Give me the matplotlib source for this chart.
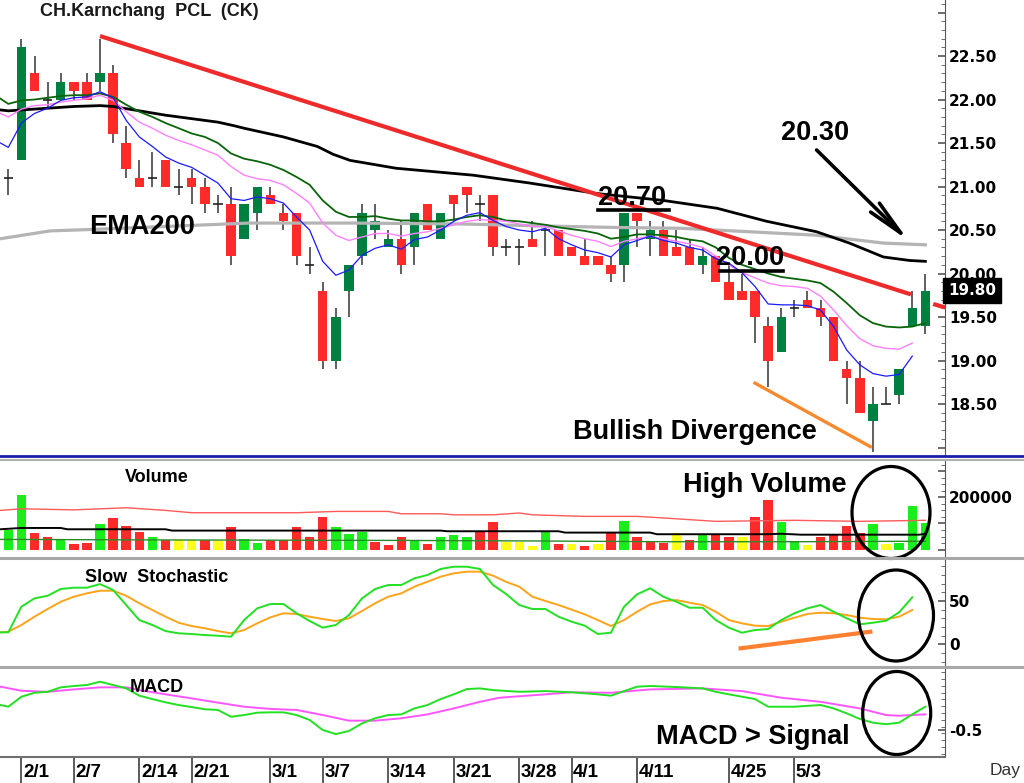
import matplotlib
matplotlib.use('Agg')
import matplotlib.pyplot as plt
import matplotlib.transforms as mtransforms
from matplotlib.ticker import MultipleLocator, FuncFormatter
from matplotlib.patches import Ellipse
from matplotlib.lines import Line2D
import numpy as np

plt.rcParams['font.family'] = ['Liberation Sans', 'DejaVu Sans']
plt.rcParams['font.weight'] = 'bold'

W, H = 1024, 783

# ---------------- data ----------------
date_labels = ['2/1', '2/7', '2/14', '2/21', '3/1', '3/7', '3/14', '3/21',
               '3/28', '4/1', '4/11', '4/25', '5/3']
date_index = [1, 5, 10, 14, 20, 24, 29, 34, 39, 43, 48, 55, 60]

opens = [21.1, 21.3, 22.3, 22.0, 22.0, 22.2, 22.2, 22.2, 22.3, 21.5,
         21.1, 21.1, 21.3, 21.0, 21.1, 21.0, 20.8, 20.8, 20.4, 20.7,
         20.9, 20.7, 20.7, 20.1, 19.8, 19.0, 19.8, 20.2, 20.5, 20.3,
         20.4, 20.3, 20.8, 20.4, 20.9, 21.0, 20.8, 20.9, 20.3, 20.3,
         20.4, 20.5, 20.5, 20.3, 20.2, 20.2, 20.1, 20.1, 20.7, 20.4,
         20.5, 20.3, 20.3, 20.1, 20.2, 19.9, 19.8, 19.8, 19.4, 19.1,
         19.6, 19.7, 19.6, 19.5, 18.9, 18.8, 18.3, 18.5, 18.6, 19.4,
         19.4]
closes = [21.1, 22.6, 22.1, 22.0, 22.2, 22.1, 22.0, 22.3, 21.6, 21.2,
          21.0, 21.1, 21.0, 21.0, 21.0, 20.8, 20.8, 20.2, 20.8, 21.0,
          20.8, 20.6, 20.2, 20.1, 19.0, 19.5, 20.1, 20.7, 20.6, 20.4,
          20.1, 20.7, 20.5, 20.7, 20.8, 20.9, 20.8, 20.3, 20.3, 20.3,
          20.3, 20.5, 20.2, 20.2, 20.1, 20.1, 20.0, 20.7, 20.6, 20.5,
          20.2, 20.2, 20.1, 20.2, 19.9, 19.7, 19.7, 19.5, 19.0, 19.5,
          19.6, 19.6, 19.5, 19.0, 18.8, 18.4, 18.5, 18.5, 18.9, 19.6,
          19.8]
highs = [21.2, 22.7, 22.5, 22.2, 22.3, 22.2, 22.3, 22.7, 22.4, 21.7,
         21.3, 21.4, 21.3, 21.2, 21.2, 21.1, 20.9, 21.0, 20.8, 21.0,
         21.0, 20.8, 20.7, 20.3, 19.9, 19.6, 20.1, 20.8, 20.8, 20.5,
         20.6, 20.7, 20.8, 20.7, 20.9, 21.0, 20.9, 20.9, 20.4, 20.4,
         20.6, 20.5, 20.5, 20.3, 20.4, 20.2, 20.2, 20.7, 20.7, 20.6,
         20.6, 20.5, 20.4, 20.3, 20.2, 20.1, 20.0, 19.8, 19.5, 19.6,
         19.7, 19.8, 19.7, 19.5, 19.0, 19.0, 18.7, 18.7, 18.9, 19.8,
         20.0]
lows = [20.9, 21.3, 22.1, 21.9, 22.0, 22.0, 22.0, 22.1, 21.5, 21.1,
        21.0, 21.0, 21.0, 20.9, 20.8, 20.7, 20.7, 20.1, 20.4, 20.5,
        20.8, 20.5, 20.1, 20.0, 18.9, 18.9, 19.5, 20.1, 20.4, 20.3,
        20.0, 20.1, 20.5, 20.4, 20.6, 20.7, 20.6, 20.2, 20.2, 20.1,
        20.3, 20.2, 20.2, 20.2, 20.1, 20.1, 19.9, 19.9, 20.3, 20.2,
        20.2, 20.2, 20.1, 20.0, 19.9, 19.7, 19.7, 19.2, 18.7, 19.1,
        19.5, 19.6, 19.4, 19.0, 18.5, 18.4, 17.95, 18.5, 18.5, 19.4,
        19.3]

# moving averages (first point is the left edge of the chart)
ema_fast = [21.50, 21.45, 21.73, 21.84, 21.90, 21.99, 22.02, 22.03, 22.09, 22.02,
            21.76, 21.57, 21.46, 21.34, 21.27, 21.22, 21.13, 21.04, 20.86, 20.84,
            20.88, 20.86, 20.81, 20.65, 20.50, 20.14, 19.98, 20.04, 20.21, 20.29,
            20.33, 20.28, 20.39, 20.42, 20.50, 20.60, 20.67, 20.70, 20.61, 20.54,
            20.50, 20.48, 20.52, 20.40, 20.33, 20.27, 20.24, 20.19, 20.33, 20.38,
            20.43, 20.38, 20.35, 20.30, 20.27, 20.17, 20.12, 20.01, 19.85, 19.65,
            19.64, 19.64, 19.63, 19.58, 19.39, 19.12, 18.95, 18.85, 18.82, 18.84,
            19.05]
ema_mid = [21.84, 21.80, 21.89, 21.93, 21.94, 21.97, 21.99, 22.01, 22.05, 21.99,
           21.86, 21.74, 21.67, 21.59, 21.53, 21.48, 21.42, 21.36, 21.23, 21.13,
           21.09, 21.07, 21.02, 20.92, 20.81, 20.58, 20.44, 20.38, 20.42, 20.46,
           20.46, 20.43, 20.46, 20.48, 20.52, 20.56, 20.60, 20.62, 20.61, 20.60,
           20.57, 20.54, 20.54, 20.49, 20.44, 20.40, 20.37, 20.31, 20.37, 20.40,
           20.43, 20.40, 20.37, 20.34, 20.30, 20.20, 20.10, 20.01, 19.95, 19.89,
           19.86, 19.85, 19.83, 19.74, 19.58, 19.40, 19.25, 19.17, 19.14, 19.13,
           19.20]
ema_slow = [22.01, 21.95, 21.99, 22.00, 22.02, 22.04, 22.05, 22.05, 22.07, 22.03,
            21.94, 21.86, 21.80, 21.73, 21.67, 21.61, 21.57, 21.50, 21.38, 21.32,
            21.29, 21.25, 21.19, 21.11, 21.02, 20.84, 20.71, 20.65, 20.65, 20.66,
            20.63, 20.61, 20.61, 20.60, 20.60, 20.62, 20.65, 20.67, 20.65, 20.61,
            20.60, 20.58, 20.56, 20.53, 20.51, 20.49, 20.46, 20.40, 20.42, 20.45,
            20.45, 20.44, 20.42, 20.39, 20.37, 20.30, 20.18, 20.10, 20.05, 20.00,
            19.96, 19.94, 19.92, 19.89, 19.79, 19.66, 19.52, 19.43, 19.39, 19.38,
            19.39, 19.43]
ema_long_x = [-0.6, 0, 3, 5, 7, 8, 10, 12, 14, 16, 17.2, 18, 21, 23.6, 24.8, 26.1,
              29.6, 35.5, 39.8, 44.9, 50, 54.1, 57.9, 61.7, 64.2, 66.8, 68.8, 70]
ema_long = [21.88, 21.87, 21.90, 21.92, 21.93, 21.92, 21.87, 21.82, 21.78, 21.74,
            21.70, 21.67, 21.57, 21.46, 21.37, 21.30, 21.21, 21.13, 21.04, 20.92,
            20.84, 20.75, 20.60, 20.48, 20.35, 20.19, 20.15, 20.14]
ema200_x = [-0.6, 3.2, 7.0, 18.4, 26.1, 34.5, 39.8, 46.2, 51.3, 56.6, 61.7, 66.8, 70]
ema200 = [20.40, 20.49, 20.51, 20.58, 20.58, 20.57, 20.55, 20.53, 20.52, 20.48,
          20.44, 20.35, 20.33]

volume = [73000, 208000, 63000, 50000, 42000, 23000, 27000, 96000, 120000, 92000,
          69000, 47000, 35000, 35000, 35000, 38000, 32000, 86000, 42000, 27000,
          38000, 38000, 86000, 50000, 126000, 86000, 58000, 69000, 29000, 19000,
          50000, 35000, 23000, 50000, 54000, 50000, 69000, 105000, 29000, 29000,
          14000, 67000, 23000, 23000, 14000, 23000, 64000, 111000, 47000, 32000,
          27000, 64000, 35000, 57000, 57000, 48000, 48000, 124000, 191000, 107000,
          32000, 16000, 48000, 57000, 90000, 63000, 96000, 23000, 27000, 168000,
          101000]
volume_tone = ('ggrrgrrgrrrgryyryrggrrrrrgggrrrgrgggrryyygryryrgrrryrgrryrrggyrrrrgyggg')
vol_ma_red_x = [-0.6, 1, 5, 9, 12, 14, 22, 25, 29, 30, 33, 34, 37, 39, 40, 44, 48,
                50, 54, 60, 65, 70]
vol_ma_red = [150000, 156000, 152000, 160000, 150000, 141000, 141000, 146000, 146000,
              137000, 137000, 133000, 133000, 140000, 133000, 127000, 127000, 121000,
              108000, 112000, 108000, 112000]
vol_ma_black_x = [-0.6, 1, 4, 4.5, 12, 12.5, 33, 33.5, 42, 42.5, 49, 49.5, 58, 59,
                  60.5, 69.5, 70]
vol_ma_black = [77700, 82700, 82700, 77700, 77700, 72600, 72600, 70100, 70100, 65000,
                65000, 58700, 58700, 60600, 57000, 57000, 60000]
vol_ma_green_x = [-0.6, 10, 20, 30, 40, 50, 60, 70]
vol_ma_green = [39000, 37000, 36000, 35000, 33000, 30000, 30000, 32000]

stoch_k = [13.8, 13.8, 43.4, 53.0, 56.0, 63.8, 65.3, 65.3, 69.5, 62.6,
           45.3, 28.0, 22.3, 15.3, 12.7, 11.9, 10.7, 9.9, 8.8, 28.0,
           41.5, 46.5, 46.5, 35.8, 26.9, 19.2, 22.3, 33.8, 53.0, 63.8,
           68.4, 68.4, 76.1, 80.0, 86.9, 89.5, 89.5, 86.9, 68.4, 58.0,
           45.3, 40.7, 40.7, 31.9, 26.1, 21.5, 11.9, 13.4, 43.4, 57.7,
           64.6, 54.9, 49.1, 42.2, 42.2, 28.0, 19.2, 13.4, 16.5, 17.6,
           28.0, 35.8, 41.5, 45.3, 37.6, 30.0, 23.1, 24.9, 27.2, 36.9,
           54.2]
stoch_d = [13.8, 14.6, 22.3, 31.9, 40.7, 49.1, 54.9, 58.8, 61.8, 61.8,
           56.0, 47.3, 39.6, 31.9, 24.9, 21.1, 18.5, 15.3, 12.7, 16.5,
           24.2, 31.1, 35.8, 35.0, 31.9, 29.2, 26.9, 30.0, 38.4, 47.3,
           54.9, 58.8, 66.5, 72.2, 78.0, 81.9, 83.8, 83.8, 79.2, 72.0,
           66.5, 54.9, 50.0, 45.3, 40.0, 34.6, 28.0, 21.1, 28.0, 37.6,
           46.1, 49.9, 51.0, 48.0, 45.3, 37.6, 28.0, 24.2, 21.5, 21.1,
           26.1, 30.7, 35.0, 36.5, 35.8, 33.8, 30.7, 29.2, 28.8, 31.9,
           39.6]

macd_x = [-0.6, 0, 1, 2, 3, 4, 5, 6, 7, 8, 9, 10, 11, 12, 13, 14, 15, 16, 17, 18,
          19, 20, 21, 22, 23, 24, 25, 26, 27, 28, 29, 30, 31, 32, 33, 34, 35, 36,
          37, 39, 41, 43, 45, 46, 47, 48, 49, 51, 53, 54, 55, 57, 58, 60, 62, 63,
          64, 65, 66, 67, 68, 69, 70]
macd = [-0.353, -0.363, -0.304, -0.281, -0.275, -0.249, -0.241, -0.235, -0.216,
        -0.235, -0.255, -0.298, -0.318, -0.337, -0.353, -0.365, -0.378, -0.382,
        -0.422, -0.412, -0.398, -0.396, -0.396, -0.412, -0.441, -0.500, -0.524,
        -0.506, -0.461, -0.431, -0.412, -0.408, -0.373, -0.353, -0.318, -0.290,
        -0.259, -0.255, -0.265, -0.275, -0.271, -0.278, -0.290, -0.298, -0.271,
        -0.245, -0.241, -0.247, -0.255, -0.275, -0.290, -0.318, -0.363, -0.363,
        -0.353, -0.373, -0.402, -0.435, -0.457, -0.466, -0.457, -0.408, -0.363]
signal_x = [-0.6, 1, 3, 5, 7, 9, 10, 12, 14, 16, 18, 20, 22, 24, 26, 28, 30, 32,
            34, 36, 37.5, 41, 43, 46, 49, 53, 56, 59, 62, 65, 67, 68, 70]
signal = [-0.245, -0.269, -0.275, -0.261, -0.249, -0.249, -0.265, -0.290, -0.314,
          -0.339, -0.363, -0.376, -0.382, -0.412, -0.445, -0.445, -0.431, -0.408,
          -0.373, -0.334, -0.310, -0.290, -0.278, -0.281, -0.261, -0.255, -0.271,
          -0.310, -0.334, -0.373, -0.412, -0.416, -0.408]

last_price = 19.80
# ----------------------------------------------------------

XLIM = (-0.634, 71.5)
n = len(closes)
idx = np.arange(n)

fig = plt.figure(figsize=(W / 100, H / 100), dpi=100)
fig.patch.set_facecolor('white')


def panel(y0, y1):
    ax = fig.add_axes([0, 1 - y1 / H, 945 / W, (y1 - y0) / H])
    ax.set_xlim(*XLIM)
    for s in ['top', 'left', 'bottom']:
        ax.spines[s].set_visible(False)
    ax.spines['right'].set_color('#555555')
    ax.yaxis.tick_right()
    ax.set_xticks([])
    ax.tick_params(axis='y', which='both', direction='in', colors='#555555',
                   labelcolor='black', pad=3, labelsize=11, labelfontfamily='DejaVu Sans')
    ax.tick_params(axis='y', which='major', length=5, width=1.2)
    ax.tick_params(axis='y', which='minor', length=3)
    ax.patch.set_alpha(0)
    return ax


def hline(y, x0, x1, color, lw):
    fig.add_artist(Line2D([x0 / W, x1 / W], [1 - y / H, 1 - y / H], color=color, lw=lw))


def ftext(x, y, s, **kw):
    fig.text(x / W, 1 - y / H, s, **kw)


# ---- price panel ----
ax = panel(0, 455)
ax.set_ylim(17.914, 23.144)
ax.yaxis.set_major_locator(MultipleLocator(0.5))
ax.yaxis.set_minor_locator(MultipleLocator(0.1))
ax.yaxis.set_major_formatter(FuncFormatter(lambda v, p: '%.2f' % v if 18.4 < v < 22.6 else ''))

up_col, dn_col = '#008040', '#ff2b2b'
ax.vlines(idx, lows, highs, color='#444444', lw=1.2, zorder=2)
for i in range(n):
    o, c = opens[i], closes[i]
    if abs(c - o) < 1e-9:
        ax.hlines(c, i - 0.36, i + 0.36, color='#222222', lw=1.2, zorder=2)
    else:
        ax.bar(i, abs(c - o), bottom=min(o, c), width=0.72,
               color=up_col if c > o else dn_col, zorder=2.2)

x_edge = np.r_[-0.6, idx]
ax.plot(ema200_x, ema200, color='#b4b4b4', lw=2.3, zorder=3)
ax.plot(ema_long_x, ema_long, color='black', lw=2.0, zorder=3)
ax.plot(x_edge[:len(ema_slow)], ema_slow, color='#0a640a', lw=1.3, zorder=3)
ax.plot(x_edge[:len(ema_mid)], ema_mid, color='#ff80ff', lw=1.0, zorder=3)
ax.plot(x_edge[:len(ema_fast)], ema_fast, color='#1a1aff', lw=0.9, zorder=3)

# drawn annotations
ax.plot([7, 68.9], [22.73, 19.76], color='#ee2a2a', lw=3.0, solid_capstyle='butt', zorder=4)
ax.plot([70.6, 71.5], [19.65, 19.61], color='#ee2a2a', lw=3.0, solid_capstyle='butt', zorder=4)
ax.plot([57.0, 65.8], [18.74, 18.01], color='#f7892e', lw=2.4, zorder=4)
ax.annotate('', xy=(68.7, 20.38), xytext=(61.7, 21.42),
            arrowprops=dict(arrowstyle='->,head_length=2.6,head_width=0.45',
                            lw=2.6, color='black', shrinkA=0, shrinkB=0), zorder=5)
ax.text(61.6, 21.61, '20.30', fontsize=19.5, ha='center', va='center', zorder=5)
ax.text(47.6, 20.87, '20.70', fontsize=19.5, ha='center', va='center', zorder=5)
ax.plot([45.0, 50.4], [20.73, 20.73], color='black', lw=2.6, zorder=5)
ax.text(56.6, 20.18, '20.00', fontsize=19.5, ha='center', va='center', zorder=5)
ax.plot([54.3, 59.1], [20.03, 20.03], color='black', lw=2.6, zorder=5)
ax.text(10.2, 20.53, 'EMA200', fontsize=19.5, ha='center', va='center', zorder=5)
ax.text(52.4, 18.18, 'Bullish Divergence', fontsize=19.5, ha='center', va='center', zorder=5)

trans = mtransforms.blended_transform_factory(ax.transAxes, ax.transData)
ax.text(1.003, last_price, '%.2f' % last_price, transform=trans, color='white',
        fontsize=11, family='DejaVu Sans', ha='left', va='center', zorder=6,
        bbox=dict(boxstyle='square,pad=0.33', fc='black', ec='black'))

# ---- volume panel ----
axv = panel(460, 556)
axv.set_ylim(-24600, 342800)
axv.yaxis.set_major_locator(MultipleLocator(100000))
axv.yaxis.set_minor_locator(MultipleLocator(25000))
axv.yaxis.set_major_formatter(FuncFormatter(lambda v, p: '200000' if abs(v - 200000) < 1 else ''))
tone = {'g': '#1aee1a', 'r': '#ff2b2b', 'y': '#ffff1a'}
axv.bar(idx, volume, width=0.72, color=[tone[t] for t in volume_tone], zorder=2)
axv.plot(vol_ma_red_x, vol_ma_red, color='#ff5a5a', lw=1.0, zorder=3)
axv.plot(vol_ma_black_x, vol_ma_black, color='black', lw=1.4, zorder=3)
axv.plot(vol_ma_green_x, vol_ma_green, color='#2a8a2a', lw=1.0, zorder=3)

# ---- stochastic panel ----
axs = panel(559, 666)
axs.set_ylim(-25, 98.4)
axs.yaxis.set_major_locator(MultipleLocator(50))
axs.yaxis.set_minor_locator(MultipleLocator(10))
axs.yaxis.set_major_formatter(FuncFormatter(lambda v, p: '%d' % v if 0 <= v <= 50 else ''))
axs.plot(x_edge[:len(stoch_d)], stoch_d, color='#ffa31a', lw=1.4, zorder=3)
axs.plot(x_edge[:len(stoch_k)], stoch_k, color='#22e022', lw=1.4, zorder=3)
axs.plot([55.9, 65.8], [-4.6, 14.5], color='#ff8030', lw=3.0, zorder=4)

# ---- MACD panel ----
axm = panel(668, 757)
axm.set_ylim(-0.659, -0.135)
axm.yaxis.set_major_locator(MultipleLocator(0.5))
axm.yaxis.set_minor_locator(MultipleLocator(0.04))
axm.yaxis.set_major_formatter(FuncFormatter(lambda v, p: '%.1f' % v))
axm.plot(signal_x, signal, color='#ff55ff', lw=1.4, zorder=3)
axm.plot(macd_x, macd, color='#22e022', lw=1.4, zorder=3)

# ---- date axis ----
axd = fig.add_axes([0, 0, 945 / W, 26 / H])
axd.set_xlim(*XLIM)
axd.set_ylim(0, 1)
axd.axis('off')
for i, lab in zip(date_index, date_labels):
    axd.axvline(i, color='#404040', lw=1.2)
    axd.text(i + 0.12, 0.42, lab, fontsize=13.5, ha='left', va='center')

# panel separators
hline(456, 0, W, '#1c1ca8', 2.0)
hline(459.5, 0, W, '#b0b0b0', 1.5)
hline(557.5, 0, W, '#a8a8a8', 2.2)
hline(667, 0, W, '#a8a8a8', 2.2)
hline(757, 0, 945, '#707070', 1.5)

# titles and notes
ftext(40, 12, 'CH.Karnchang  PCL  (CK)', fontsize=13, ha='left', va='center', color='#1a1a1a')
ftext(157, 478, 'Volume', fontsize=13, ha='center', va='center')
ftext(157, 577, 'Slow  Stochastic', fontsize=13, ha='center', va='center')
ftext(157, 687, 'MACD', fontsize=13, ha='center', va='center')
ftext(765, 485, 'High Volume', fontsize=19.5, ha='center', va='center')
ftext(753, 737, 'MACD > Signal', fontsize=19.5, ha='center', va='center')
ftext(1005, 770, 'Day', fontsize=12.5, ha='center', va='center', weight='normal', color='#333333')

for cx, cy, w, h in [(891, 512.5, 78, 92), (896, 615.5, 75, 91), (896.7, 713, 68, 83)]:
    fig.add_artist(Ellipse((cx / W, 1 - cy / H), w / W, h / H, fill=False,
                           ec='black', lw=2.3, transform=fig.transFigure))

fig.savefig('out.png', dpi=100)
